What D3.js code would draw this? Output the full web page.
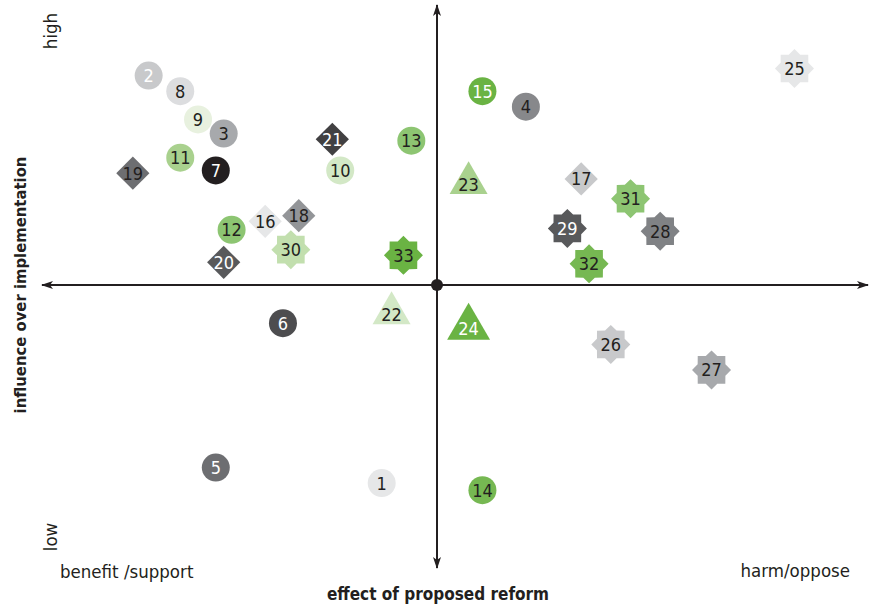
<!DOCTYPE html>
<html>
<head>
<meta charset="utf-8">
<script src="https://cdn.jsdelivr.net/npm/d3@7"></script>
<style>
  body { margin: 0; background: #fff; }
  svg text { font-family: "Liberation Sans Narrow", "DejaVu Sans Condensed", "Roboto", sans-serif; }
</style>
</head>
<body>
<div id="chart"></div>
<script>
const WIDTH = 870
const HEIGHT = 606

// stakeholders: id, effect (x), influence (y)
const ids       = [1, 2, 3, 4, 5, 6, 7, 8, 9, 10, 11, 12, 13, 14, 15, 16, 17, 18, 19, 20, 21, 22, 23, 24, 25, 26, 27, 28, 29, 30, 31, 32, 33]
const effect    = [-1.4, -7.3, -5.4, 2.25, -5.6, -3.9, -5.6, -6.5, -6.05, -2.45, -6.5, -5.2, -0.65, 1.15, 1.15, -4.35, 3.65, -3.5, -7.7, -5.4, -2.65, -1.15, 0.8, 0.8, 9.05, 4.4, 6.95, 5.65, 3.3, -3.7, 4.9, 3.85, -0.85]
const influence = [-7.0, 7.4, 5.35, 6.3, -6.45, -1.35, 4.05, 6.85, 5.85, 4.05, 4.5, 1.95, 5.1, -7.25, 6.85, 2.25, 3.75, 2.45, 3.95, 0.8, 5.15, -1.0, 3.6, -1.5, 7.65, -2.1, -3.0, 1.9, 2.0, 1.25, 3.05, 0.75, 1.05]
const shapes    = ["circle", "circle", "circle", "circle", "circle", "circle", "circle", "circle", "circle", "circle", "circle", "circle", "circle", "circle", "circle",
                   "diamond", "diamond", "diamond", "diamond", "diamond", "diamond",
                   "triangle", "triangle", "bigtriangle",
                   "star", "star", "star", "star", "star", "star", "star", "star", "star"]
const fills     = ["#e6e7e8", "#c8c9cb", "#a7a9ac", "#87888b", "#6d6e71", "#4d4d4f", "#231f20", "#dcdddf", "#e8f1df", "#d3e8c6", "#a9d18e", "#8dc572", "#8dc572", "#76b852", "#6ab343",
                   "#e6e7e8", "#c8c9cb", "#939598", "#6d6e71", "#58595b", "#414042",
                   "#d3e8c6", "#a9d18e", "#6ab343",
                   "#e6e7e8", "#c8c9cb", "#a7a9ac", "#808285", "#58595b", "#c2dfae", "#8dc572", "#76b852", "#6ab343"]
const whiteText = [2, 5, 6, 7, 15, 20, 21, 24, 29]

const xLabels = ["benefit /support", "harm/oppose"]
const yLabels = ["low", "high"]

const points = ids.map((id, i) => ({ id: id, x: effect[i], y: influence[i], shape: shapes[i], fill: fills[i] }))

const x = d3.scaleLinear().domain([-10, 10]).range([42, 832])
const y = d3.scaleLinear().domain([-10, 10]).range([568, 2])

const svg = d3.select("#chart")
  .append("svg")
  .attr("width", WIDTH)
  .attr("height", HEIGHT)

const defs = svg.append("defs")
defs.append("marker")
  .attr("id", "arrow")
  .attr("viewBox", "0 0 12 8")
  .attr("refX", 11)
  .attr("refY", 4)
  .attr("markerWidth", 12)
  .attr("markerHeight", 8)
  .attr("markerUnits", "userSpaceOnUse")
  .attr("orient", "auto-start-reverse")
  .append("path")
  .attr("d", "M0,0 L12,4 L0,8 L3,4 Z")
  .attr("fill", "#231f20")

// axes with arrows both ends
svg.append("line")
  .attr("x1", 42).attr("x2", 868)
  .attr("y1", y(0)).attr("y2", y(0))
  .attr("stroke", "#231f20").attr("stroke-width", 2)
  .attr("marker-start", "url(#arrow)")
  .attr("marker-end", "url(#arrow)")

svg.append("line")
  .attr("x1", x(0)).attr("x2", x(0))
  .attr("y1", 568).attr("y2", 5)
  .attr("stroke", "#231f20").attr("stroke-width", 2)
  .attr("marker-start", "url(#arrow)")
  .attr("marker-end", "url(#arrow)")

svg.append("circle")
  .attr("cx", x(0)).attr("cy", y(0)).attr("r", 6)
  .attr("fill", "#231f20")

// 8 pointed star
function starPath(outer, inner) {
  const pts = d3.range(16).map(i => [i * Math.PI / 8, i % 2 === 0 ? outer : inner])
  return d3.lineRadial().curve(d3.curveLinearClosed)(pts)
}

function shapePath(s) {
  if (s === "circle") return d3.symbol().type(d3.symbolCircle).size(Math.PI * 14 * 14)()
  if (s === "diamond") return d3.symbol().type(d3.symbolSquare).size(23.5 * 23.5)()
  if (s === "triangle") return d3.symbol().type(d3.symbolTriangle).size(625)()
  if (s === "bigtriangle") return d3.symbol().type(d3.symbolTriangle).size(800)()
  return starPath(19.5, 15)
}

const g = svg.append("g")
  .selectAll("g")
  .data(points)
  .join("g")
  .attr("transform", d => `translate(${x(d.x)},${y(d.y)})`)

g.append("path")
  .attr("d", d => shapePath(d.shape))
  .attr("transform", d => d.shape === "diamond" ? "rotate(45)" : null)
  .attr("fill", d => d.fill)

g.append("text")
  .attr("text-anchor", "middle")
  .attr("dy", d => d.shape.includes("triangle") ? 8 : 6.5)
  .attr("font-size", 18)
  .attr("fill", d => whiteText.includes(d.id) ? "#fff" : "#231f20")
  .text(d => d.id)

// axis texts
svg.append("text")
  .attr("x", 60).attr("y", 578)
  .attr("font-size", 18.5).attr("fill", "#231f20")
  .text(xLabels[0])

svg.append("text")
  .attr("x", 850).attr("y", 577)
  .attr("text-anchor", "end")
  .attr("font-size", 18.5).attr("fill", "#231f20")
  .text(xLabels[1])

svg.append("text")
  .attr("x", 438).attr("y", 600)
  .attr("text-anchor", "middle")
  .attr("font-size", 17).attr("font-weight", "bold").attr("fill", "#231f20")
  .text("effect of proposed reform")

svg.append("text")
  .attr("transform", "translate(57,537) rotate(-90)")
  .attr("text-anchor", "middle")
  .attr("font-size", 18.5).attr("fill", "#231f20")
  .text(yLabels[0])

svg.append("text")
  .attr("transform", "translate(57,31) rotate(-90)")
  .attr("text-anchor", "middle")
  .attr("font-size", 18.5).attr("fill", "#231f20")
  .text(yLabels[1])

svg.append("text")
  .attr("transform", "translate(26,285) rotate(-90)")
  .attr("text-anchor", "middle")
  .attr("font-size", 16.5).attr("font-weight", "bold").attr("fill", "#231f20")
  .text("influence over implementation")
</script>
</body>
</html>
